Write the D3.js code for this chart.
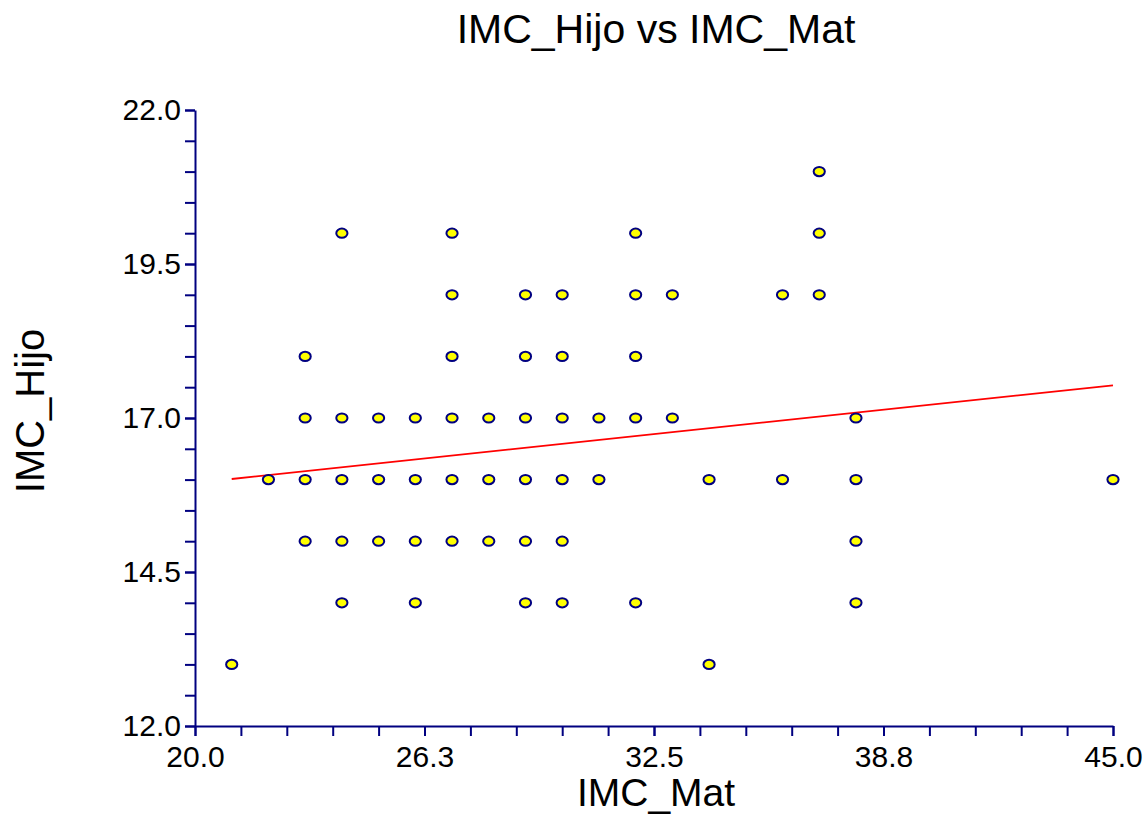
<!DOCTYPE html>
<html>
<head>
<meta charset="utf-8">
<script src="https://cdn.jsdelivr.net/npm/d3@7"></script>
<style>
  body { margin: 0; background: #fff; }
  text { font-family: "Liberation Sans", Arial, sans-serif; fill: #000; }
</style>
</head>
<body>
<div id="chart"></div>
<script>
// data (IMC_Mat, IMC_Hijo pairs)
const imcMat = [
  37,
  24, 27, 32, 37,
  27, 29, 30, 32, 33, 36, 37,
  23, 27, 29, 30, 32,
  23, 24, 25, 26, 27, 28, 29, 30, 31, 32, 33, 38,
  22, 23, 24, 25, 26, 27, 28, 29, 30, 31, 34, 36, 38, 45,
  23, 24, 25, 26, 27, 28, 29, 30, 38,
  24, 26, 29, 30, 32, 38,
  21, 34,
];
const imcHijo = [
  21,
  20, 20, 20, 20,
  19, 19, 19, 19, 19, 19, 19,
  18, 18, 18, 18, 18,
  17, 17, 17, 17, 17, 17, 17, 17, 17, 17, 17, 17,
  16, 16, 16, 16, 16, 16, 16, 16, 16, 16, 16, 16, 16, 16,
  15, 15, 15, 15, 15, 15, 15, 15, 15,
  14, 14, 14, 14, 14, 14,
  13, 13,
];
// fitted line end points
const fitX = [21, 45];
const fitY = [16.01, 17.53];

const xTicks = [20, 26.25, 32.5, 38.75, 45];
const xTickLabels = ["20.0", "26.3", "32.5", "38.8", "45.0"];
const yTicks = [12, 14.5, 17, 19.5, 22];
const yTickLabels = ["12.0", "14.5", "17.0", "19.5", "22.0"];

const data = imcMat.map((d, i) => ({ x: d, y: imcHijo[i] }));

const W = 1145, H = 824;
const margin = { top: 110, right: 32, bottom: 98, left: 195 },
  width = W - margin.left - margin.right,
  height = H - margin.top - margin.bottom;

const axisColor = "#000080";

const root = d3.select("#chart").append("svg")
  .attr("width", W)
  .attr("height", H);

const svg = root.append("g")
  .attr("transform", `translate(${margin.left},${margin.top})`);

const x = d3.scaleLinear().domain([20, 45]).range([0, width]);
const y = d3.scaleLinear().domain([12, 22]).range([height, 0]);

// minor ticks
const xMinor = d3.range(20, 45.001, 1.25);
const yMinor = d3.range(12, 22.001, 0.5);

svg.append("g")
  .attr("transform", `translate(0,${height})`)
  .call(d3.axisBottom(x).tickValues(xMinor).tickSize(10).tickFormat(""))
  .call(g => g.select(".domain").remove());
svg.append("g")
  .call(d3.axisLeft(y).tickValues(yMinor).tickSize(10).tickFormat(""))
  .call(g => g.select(".domain").remove());

// major axes
const xAxis = svg.append("g")
  .attr("transform", `translate(0,${height})`)
  .call(d3.axisBottom(x).tickValues(xTicks).tickSize(10).tickSizeOuter(0).tickPadding(10)
    .tickFormat((d, i) => xTickLabels[i]));
const yAxis = svg.append("g")
  .call(d3.axisLeft(y).tickValues(yTicks).tickSize(10).tickSizeOuter(0).tickPadding(4)
    .tickFormat((d, i) => yTickLabels[i]));

svg.selectAll(".tick line").attr("stroke", axisColor).attr("stroke-width", 2);
svg.selectAll(".domain").attr("stroke", axisColor).attr("stroke-width", 2);
svg.selectAll(".tick text").attr("font-size", 30).attr("fill", "#000");

// fitted line
svg.append("line")
  .attr("x1", x(fitX[0]))
  .attr("y1", y(fitY[0]))
  .attr("x2", x(fitX[1]))
  .attr("y2", y(fitY[1]))
  .attr("stroke", "#ff0000")
  .attr("stroke-width", 1.8);

// points
svg.append("g")
  .selectAll("ellipse")
  .data(data)
  .join("ellipse")
  .attr("cx", d => x(d.x))
  .attr("cy", d => y(d.y))
  .attr("rx", 5.6)
  .attr("ry", 4.6)
  .attr("fill", "#ffff00")
  .attr("stroke", axisColor)
  .attr("stroke-width", 2);

// titles
root.append("text")
  .attr("x", 656)
  .attr("y", 43)
  .attr("text-anchor", "middle")
  .attr("font-size", 41)
  .text("IMC_Hijo vs IMC_Mat");

root.append("text")
  .attr("x", 656)
  .attr("y", 806)
  .attr("text-anchor", "middle")
  .attr("font-size", 39)
  .text("IMC_Mat");

root.append("text")
  .attr("transform", "translate(44,411) rotate(-90)")
  .attr("text-anchor", "middle")
  .attr("font-size", 40)
  .text("IMC_Hijo");
</script>
</body>
</html>
